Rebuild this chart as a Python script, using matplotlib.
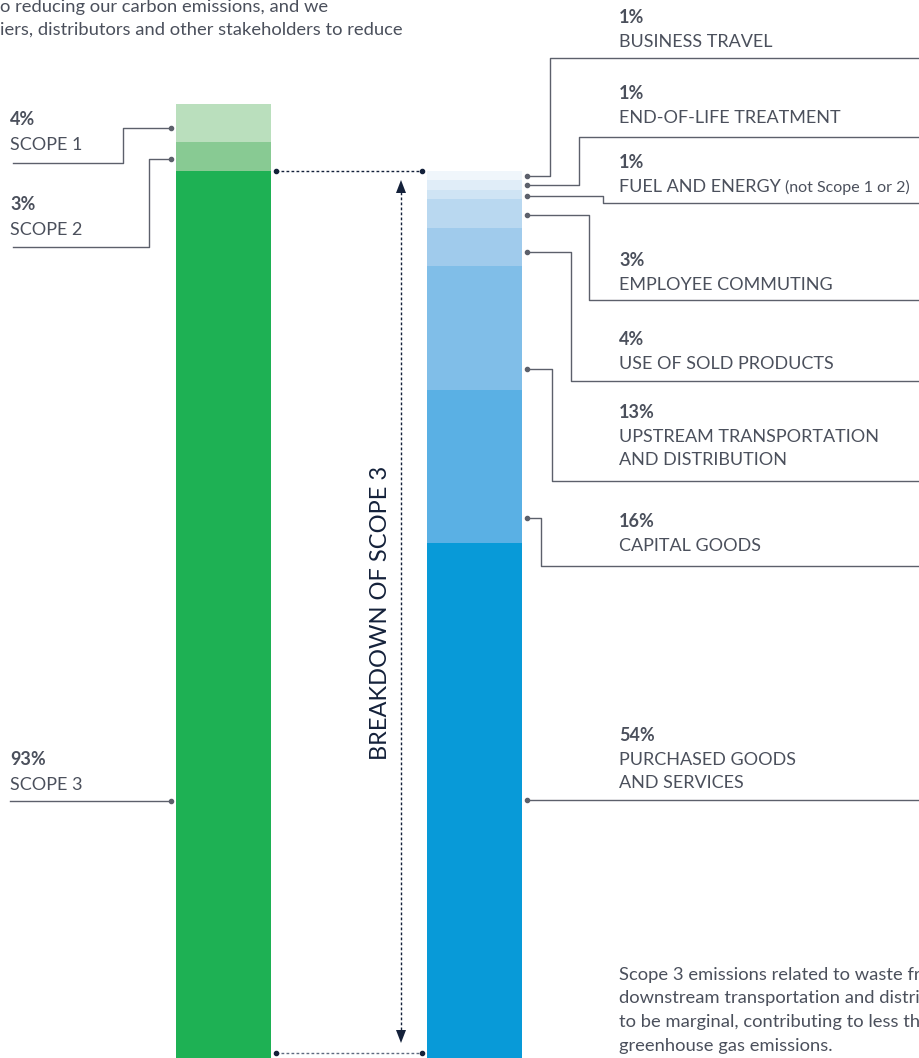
import matplotlib.pyplot as plt
import numpy as np

plt.rcParams['font.family'] = ['Lato', 'DejaVu Sans']

# data: share of total emissions (%)
scope_names = ["SCOPE 3", "SCOPE 2", "SCOPE 1"]
scope_vals = [93, 3, 4]
scope_colors = ["#1EB154", "#88CA93", "#BADFBD"]

# breakdown of scope 3, bottom to top
s3_names = ["PURCHASED GOODS\nAND SERVICES", "CAPITAL GOODS",
            "UPSTREAM TRANSPORTATION\nAND DISTRIBUTION", "USE OF SOLD PRODUCTS",
            "EMPLOYEE COMMUTING", "FUEL AND ENERGY", "END-OF-LIFE TREATMENT",
            "BUSINESS TRAVEL"]
s3_vals = [54, 16, 13, 4, 3, 1, 1, 1]
s3_colors = ["#089AD8", "#5AB0E4", "#80BEE8", "#A0CBEC", "#B9D8F0",
             "#CFE4F4", "#E0EDF8", "#F0F6FB"]

# layout (pixels)
W, H = 920, 1058
PX_PER_PCT = 9.54
TXT = "#4B505C"
LINE = "#5C606B"
NAVY = "#14213A"
FS = 13


def py(y):
    # pixel row -> data y
    return (H - y) / PX_PER_PCT


fig = plt.figure(figsize=(W / 100, H / 100), dpi=100)
ax = fig.add_axes([0, 0, 1, 1])
ax.set_xlim(0, W)
ax.set_ylim(0, H / PX_PER_PCT)
ax.axis('off')

# bars
lx, rx, bw = 223.5, 474.5, 95
lbot = np.concatenate([[0], np.cumsum(scope_vals)[:-1]])
ax.bar(lx, scope_vals, bottom=lbot, width=bw, color=scope_colors, linewidth=0)
rbot = np.concatenate([[0], np.cumsum(s3_vals)[:-1]])
ax.bar(rx, s3_vals, bottom=rbot, width=bw, color=s3_colors, linewidth=0)

# left labels
l_frac = [0.71, 0.59, 0.63]          # where the dot sits in the segment (from top)
l_pct_y = [765, 210, 125]
l_name_y = [790, 235, 150]
l_line_y = [802, 247, 163]
l_elbow = [None, 149, 123]
dot_lx = lx - bw / 2 - 5
for i in range(3):
    top = lbot[i] + scope_vals[i]
    ya = top - l_frac[i] * scope_vals[i]
    ax.text(10, py(l_pct_y[i]), f"{scope_vals[i]}%", fontsize=FS, fontweight='bold',
            color=TXT, va='baseline')
    ax.text(10, py(l_name_y[i]), scope_names[i], fontsize=FS, color=TXT, va='baseline')
    if l_elbow[i] is None:
        ax.plot([dot_lx, 10], [ya, ya], color=LINE, lw=1)
    else:
        e = l_elbow[i]
        ax.plot([dot_lx, e, e, 13], [ya, ya, py(l_line_y[i]), py(l_line_y[i])],
                color=LINE, lw=1)
    ax.plot(dot_lx, ya, 'o', ms=3, color=LINE)

# right labels (bottom to top, same order as s3_vals)
r_frac = [0.5, 0.84, 0.83, 0.64, 0.54, 0.6, 0.5, 0.5]
r_pct_y = [741, 527, 418, 345, 266, 168, 99, 23]
r_line_y = [802, 566, 481, 381, 300, 203, 137, 58]
r_elbow = [None, 541, 552, 571, 589, 603, 579, 550]
dot_rx = rx + bw / 2 + 5
renderer = fig.canvas.get_renderer()
for i in range(len(s3_vals)):
    top = rbot[i] + s3_vals[i]
    ya = top - r_frac[i] * s3_vals[i]
    ax.text(619, py(r_pct_y[i]), f"{s3_vals[i]}%", fontsize=FS, fontweight='bold',
            color=TXT, va='baseline')
    lines = s3_names[i].split("\n")
    for k, ln in enumerate(lines):
        t = ax.text(619, py(r_pct_y[i] + 24 + k * 23), ln, fontsize=FS,
                    color=TXT, va='baseline')
        if ln == "FUEL AND ENERGY":
            bb = t.get_window_extent(renderer)
            ax.text(bb.x1 + 4, py(r_pct_y[i] + 24), "(not Scope 1 or 2)",
                    fontsize=11.5, color=TXT, va='baseline')
    yl = py(r_line_y[i])
    if r_elbow[i] is None:
        ax.plot([dot_rx, W], [ya, ya], color=LINE, lw=1)
    else:
        e = r_elbow[i]
        ax.plot([dot_rx, e, e, W], [ya, ya, yl, yl], color=LINE, lw=1)
    ax.plot(dot_rx, ya, 'o', ms=3, color=LINE)

# breakdown bracket
s3_top = scope_vals[0]
ax.plot([lx + bw / 2 + 5, rx - bw / 2 - 5], [s3_top, s3_top], color=NAVY, lw=1,
        ls=(0, (2, 1.6)), marker='o', ms=3, markevery=[0, 1])
ax.plot([lx + bw / 2 + 5, rx - bw / 2 - 5], [py(1053), py(1053)], color="#5F6B80", lw=1,
        ls=(0, (2, 1.6)))
ax.plot([lx + bw / 2 + 5, rx - bw / 2 - 5], [py(1053), py(1053)], 'o', ms=3, color=NAVY)
ax.plot([401, 401], [py(192), py(1031)], color=NAVY, lw=1, ls=(0, (2, 1.6)))
ax.fill([396, 406, 401], [py(193), py(193), py(180)], color=NAVY, lw=0)
ax.fill([396, 406, 401], [py(1030), py(1030), py(1043)], color=NAVY, lw=0)
ax.text(381, py(613), "BREAKDOWN OF SCOPE 3", rotation=90, fontsize=17, color=NAVY,
        ha='center', va='center')

# intro text, as far as it shows in the crop
ax.text(0, py(12), "o reducing our carbon emissions, and we", fontsize=13.2,
        color=TXT, va='baseline')
ax.text(0, py(35), "iers, distributors and other stakeholders to reduce",
        fontsize=13.2, color=TXT, va='baseline')

# note, as far as it shows in the crop
note = ["Scope 3 emissions related to waste fr",
        "downstream transportation and distri",
        "to be marginal, contributing to less th",
        "greenhouse gas emissions."]
for k, ln in enumerate(note):
    ax.text(619, py(980 + k * 23.5), ln, fontsize=13.2, color=TXT, va='baseline')

fig.savefig("out.png", dpi=100)
